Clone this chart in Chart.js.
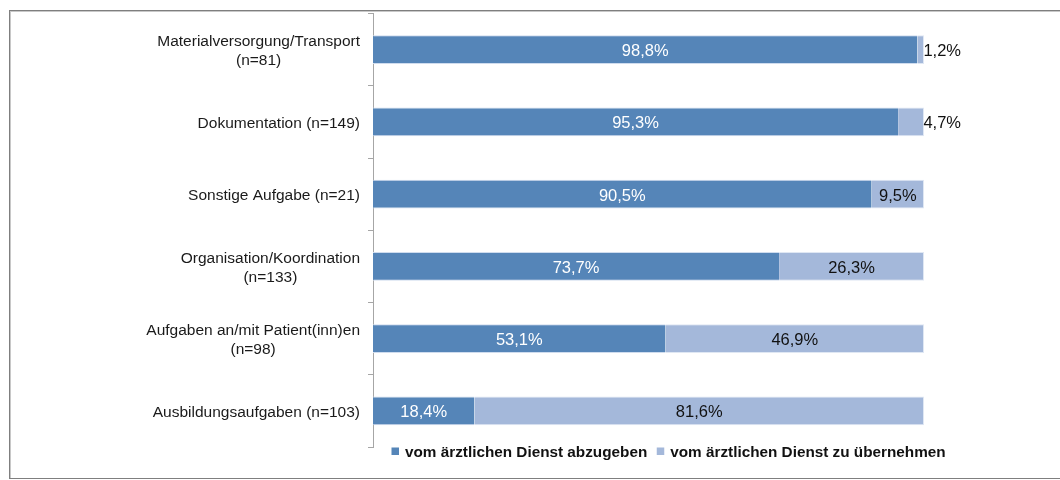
<!DOCTYPE html>
<html>
<head>
<meta charset="utf-8">
<script src="https://cdn.jsdelivr.net/npm/chart.js@4/dist/chart.umd.min.js"></script>
<style>
  html, body { margin: 0; padding: 0; background: #fff; overflow: hidden; }
  #wrap { position: relative; width: 1060px; height: 480px; }
  #frame { position: absolute; left: 9px; top: 10px; width: 1200px; height: 467px;
           border: 1px solid #7f7f7f; box-shadow: inset 1px 1px 0 #c8c8c8; pointer-events: none; }
  canvas { position: absolute; left: 0; top: 0; }
</style>
</head>
<body>
<div id="wrap">
  <canvas id="c" width="1060" height="480"></canvas>
  <div id="frame"></div>
</div>
<script>
// ---- data ----
const categories = [
  ['Materialversorgung/Transport', '(n=81)'],
  ['Dokumentation (n=149)'],
  ['Sonstige Aufgabe (n=21)'],
  ['Organisation/Koordination', '(n=133)'],
  ['Aufgaben an/mit Patient(inn)en', '(n=98)'],
  ['Ausbildungsaufgaben (n=103)']
];
const seriesNames = ['vom ärztlichen Dienst abzugeben', 'vom ärztlichen Dienst zu übernehmen'];
const abzugeben   = [98.8, 95.3, 90.5, 73.7, 53.1, 18.4];
const uebernehmen = [1.2, 4.7, 9.5, 26.3, 46.9, 81.6];

const FONT = '"Liberation Sans", Arial, Helvetica, sans-serif';
const DARK = '#5585b8';
const LIGHT = '#a4b8da';
const fmt = v => v.toFixed(1).replace('.', ',') + '%';

const labelPlugin = {
  id: 'customLabels',
  afterDatasetsDraw(chart) {
    const ctx = chart.ctx;
    const ya = chart.scales.y, xa = chart.scales.x;
    const ca = chart.chartArea;
    ctx.save();
    // category labels (block right-aligned, lines centered)
    ctx.font = '15.5px ' + FONT;
    ctx.fillStyle = '#1a1a1a';
    ctx.textAlign = 'center';
    ctx.textBaseline = 'middle';
    const lh = 19;
    const right = ca.left - 13;
    categories.forEach((lines, i) => {
      const yc = ya.getPixelForTick(i) + 2;
      const w = Math.max(...lines.map(l => ctx.measureText(l).width));
      const cx = right - w / 2;
      const y0 = yc - (lines.length - 1) * lh / 2;
      lines.forEach((l, k) => ctx.fillText(l, cx, y0 + k * lh));
    });
    // value labels
    ctx.font = '16.5px ' + FONT;
    chart.data.datasets.forEach((ds, di) => {
      const meta = chart.getDatasetMeta(di);
      meta.data.forEach((bar, i) => {
        const v = ds.data[i];
        const txt = fmt(v);
        const tw = ctx.measureText(txt).width;
        const x1 = Math.min(bar.x, bar.base), x2 = Math.max(bar.x, bar.base);
        const y = bar.y + 2;
        ctx.fillStyle = di === 0 ? '#ffffff' : '#111111';
        if (tw > (x2 - x1)) {
          ctx.textAlign = 'right';
          ctx.fillText(txt, xa.getPixelForValue(100) + 37, y);
        } else {
          ctx.textAlign = 'center';
          ctx.fillText(txt, (x1 + x2) / 2, y);
        }
      });
    });
    // legend
    ctx.font = 'bold 15.3px ' + FONT;
    ctx.textAlign = 'left';
    ctx.fillStyle = '#111111';
    let x = ca.left + 18.5;
    const ly = ca.bottom + 4.5;
    chart.data.datasets.forEach((ds, di) => {
      ctx.fillStyle = ds.backgroundColor;
      ctx.fillRect(x, ly - 4, 7.5, 7.5);
      x += 13.5;
      ctx.fillStyle = '#111111';
      ctx.fillText(seriesNames[di], x, ly + 1);
      x += ctx.measureText(seriesNames[di]).width + 9.5;
    });
    ctx.restore();
  }
};

new Chart(document.getElementById('c'), {
  type: 'bar',
  data: {
    labels: categories,
    datasets: [
      { label: seriesNames[0], data: abzugeben, backgroundColor: DARK,
        borderColor: '#cfdcee', borderWidth: { top: 1, bottom: 1, right: 0, left: 0 } },
      { label: seriesNames[1], data: uebernehmen, backgroundColor: LIGHT,
        borderColor: '#dfe7f3', borderWidth: { top: 1, bottom: 1, right: 1, left: 0 } }
    ]
  },
  options: {
    indexAxis: 'y',
    responsive: false,
    animation: false,
    devicePixelRatio: 1,
    layout: { padding: { top: 13.5, right: 136, bottom: 33, left: 0 } },
    datasets: { bar: { barPercentage: 0.4, categoryPercentage: 1.0 } },
    plugins: { legend: { display: false }, tooltip: { enabled: false } },
    scales: {
      x: { stacked: true, min: 0, max: 100, display: false },
      y: {
        stacked: true,
        afterFit: s => { s.width = 373; },
        ticks: { display: false },
        grid: { display: true, drawOnChartArea: false, drawTicks: true, tickLength: 5,
                color: '#a6a6a6', offset: true },
        border: { display: true, color: '#a6a6a6', width: 1 }
      }
    }
  },
  plugins: [labelPlugin]
});
</script>
</body>
</html>
